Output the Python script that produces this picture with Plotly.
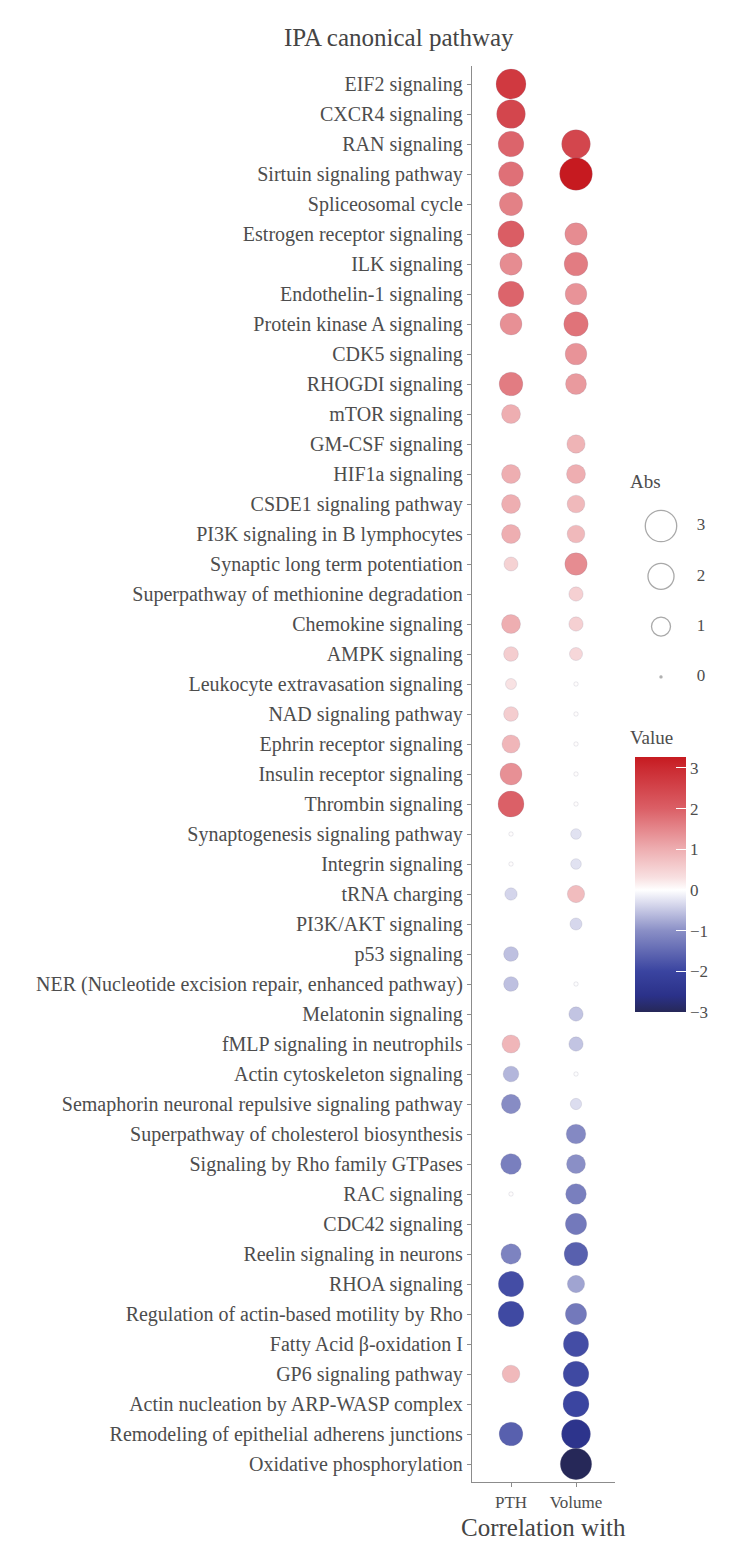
import math
import plotly.graph_objects as go

# ---------------- data ----------------
pathways = [
    "EIF2 signaling", "CXCR4 signaling", "RAN signaling", "Sirtuin signaling pathway",
    "Spliceosomal cycle", "Estrogen receptor signaling", "ILK signaling",
    "Endothelin-1 signaling", "Protein kinase A signaling", "CDK5 signaling",
    "RHOGDI signaling", "mTOR signaling", "GM-CSF signaling", "HIF1a signaling",
    "CSDE1 signaling pathway", "PI3K signaling in B lymphocytes",
    "Synaptic long term potentiation", "Superpathway of methionine degradation",
    "Chemokine signaling", "AMPK signaling", "Leukocyte extravasation signaling",
    "NAD signaling pathway", "Ephrin receptor signaling", "Insulin receptor signaling",
    "Thrombin signaling", "Synaptogenesis signaling pathway", "Integrin signaling",
    "tRNA charging", "PI3K/AKT signaling", "p53 signaling",
    "NER (Nucleotide excision repair, enhanced pathway)", "Melatonin signaling",
    "fMLP signaling in neutrophils", "Actin cytoskeleton signaling",
    "Semaphorin neuronal repulsive signaling pathway",
    "Superpathway of cholesterol biosynthesis", "Signaling by Rho family GTPases",
    "RAC signaling", "CDC42 signaling", "Reelin signaling in neurons", "RHOA signaling",
    "Regulation of actin-based motility by Rho", "Fatty Acid β-oxidation I",
    "GP6 signaling pathway", "Actin nucleation by ARP-WASP complex",
    "Remodeling of epithelial adherens junctions", "Oxidative phosphorylation",
]

pth = [
    2.71, 2.47, 1.94, 1.78, 1.57, 2.04, 1.43, 1.94, 1.38, None,
    1.63, 1.00, None, 1.00, 1.00, 1.00, 0.50, None, 1.00, 0.56,
    0.28, 0.56, 0.89, 1.38, 1.99, 0.02, 0.02, -0.37, None, -0.56,
    -0.56, None, 0.89, -0.65, -1.04, None, -1.21, 0.02, None, -1.16,
    -1.88, -1.94, None, 0.85, None, -1.63, None,
]

volume = [
    None, None, 2.47, 3.27, None, 1.43, 1.63, 1.34, 1.75, 1.34,
    1.25, None, 0.92, 1.00, 0.85, 0.85, 1.43, 0.52, 0.52, 0.42,
    0.02, 0.02, 0.02, 0.02, 0.02, -0.26, -0.26, 0.81, -0.35, None,
    -0.02, -0.52, -0.52, -0.02, -0.30, -1.08, -1.00, -1.21, -1.29, -1.63,
    -0.81, -1.29, -1.88, -1.94, -1.99, -2.52, -3.00,
]

series_names = ["PTH", "Volume"]
series_values = [pth, volume]
size_breaks = [3, 2, 1, 0]
color_ticks = [-3, -2, -1, 0, 1, 2, 3]
value_min, value_max = -3.0, 3.27

# ---------------- styling helpers ----------------
FONT = "Liberation Serif, Times New Roman, Times, serif"
TXT = "#4d4d4d"
AXC = "#8c8c8c"

OFF = 8                      # default page body margin
W, H = 740, 1545
ML, MT = 472 - OFF, 66 - OFF
MB = H - (1482 - OFF)
MR = 5
PW = W - ML - MR
PH = H - MT - MB


def px_x(px):
    """page x pixel -> paper fraction"""
    return (px - OFF - ML) / PW


def px_y(py):
    """page y pixel -> paper fraction"""
    return (H - MB - (py - OFF)) / PH


def diam(v):
    return 2 + 17 * math.sqrt(abs(v))


stops = [
    (-3.0, "#262858"), (-2.6, "#2b3189"), (-2.0, "#3a44a0"), (-1.0, "#8a8fc6"),
    (-0.3, "#dcddef"), (0.0, "#ffffff"), (0.3, "#f8e0e1"), (1.0, "#eeaeb1"),
    (2.0, "#db5f66"), (3.0, "#cb2a31"), (3.27, "#c61a20"),
]
colorscale = [[(v - value_min) / (value_max - value_min), c] for v, c in stops]

# ---------------- build points ----------------
xs, ys, cs = [], [], []
for name, vals in zip(series_names, series_values):
    for p, v in zip(pathways, vals):
        if v is None:
            continue
        xs.append(name)
        ys.append(p)
        cs.append(v)

fig = go.Figure()
fig.add_trace(go.Scatter(
    x=xs, y=ys, mode="markers",
    marker=dict(
        size=[diam(v) for v in cs], color=cs, colorscale=colorscale,
        cmin=value_min, cmax=value_max, opacity=1,
        line=dict(width=0.6, color="rgba(130,130,150,0.3)"),
        showscale=True,
        colorbar=dict(
            x=px_x(635), xanchor="left", y=px_y(884.5), yanchor="middle",
            len=255, lenmode="pixels", thickness=51, thicknessmode="pixels",
            xpad=0, ypad=0, outlinewidth=0,
            tickvals=color_ticks, ticks="inside", ticklen=10, tickcolor="white",
            tickwidth=1, tickfont=dict(family=FONT, size=17, color=TXT),
        ),
    ),
    showlegend=False, hoverinfo="x+y+text", text=[f"{v:.2f}" for v in cs],
))

# size legend ("Abs")
leg_y = [526 + 50.3 * i for i in range(len(size_breaks))]
fig.add_trace(go.Scatter(
    x=[661] * len(size_breaks), y=leg_y, mode="markers",
    marker=dict(size=[diam(b) for b in size_breaks], color="rgba(0,0,0,0)",
                line=dict(color="#858585", width=1.3)),
    xaxis="x2", yaxis="y2", showlegend=False, hoverinfo="skip",
))
fig.add_trace(go.Scatter(
    x=[701] * len(size_breaks), y=leg_y, mode="text",
    text=[str(b) for b in size_breaks],
    textfont=dict(family=FONT, size=17, color=TXT),
    xaxis="x2", yaxis="y2", showlegend=False, hoverinfo="skip",
))

axis_common = dict(
    showline=True, linecolor=AXC, linewidth=1.4, ticks="outside", ticklen=4,
    tickcolor=AXC, tickwidth=1.2, showgrid=False, zeroline=False, fixedrange=True,
)

fig.update_layout(
    width=W, height=H,
    margin=dict(l=ML, r=MR, t=MT, b=MB),
    paper_bgcolor="white", plot_bgcolor="white",
    font=dict(family=FONT, color=TXT),
    xaxis=dict(
        domain=[0, (615 - OFF - ML) / PW], type="category",
        categoryorder="array", categoryarray=series_names, range=[-0.6, 1.6],
        tickfont=dict(family=FONT, size=17, color=TXT), **axis_common,
    ),
    yaxis=dict(
        domain=[0, 1], type="category", categoryorder="array",
        categoryarray=pathways, range=[len(pathways) - 0.4, -0.6],
        tickfont=dict(family=FONT, size=20, color=TXT), **axis_common,
    ),
    xaxis2=dict(domain=[px_x(620), px_x(740)], range=[620, 740], visible=False,
                anchor="y2", fixedrange=True),
    yaxis2=dict(domain=[px_y(700), px_y(500)], range=[700, 500], visible=False,
                anchor="x2", fixedrange=True),
    annotations=[
        dict(text="IPA canonical pathway", x=px_x(398.5), y=px_y(37), xref="paper",
             yref="paper", showarrow=False, xanchor="center", yanchor="middle",
             font=dict(family=FONT, size=25, color="#444444")),
        dict(text="Correlation with", x=px_x(543), y=px_y(1527), xref="paper",
             yref="paper", showarrow=False, xanchor="center", yanchor="middle",
             font=dict(family=FONT, size=25, color="#444444")),
        dict(text="Abs", x=px_x(628), y=px_y(481), xref="paper", yref="paper",
             showarrow=False, xanchor="left", yanchor="middle",
             font=dict(family=FONT, size=19, color=TXT)),
        dict(text="Value", x=px_x(628), y=px_y(738), xref="paper", yref="paper",
             showarrow=False, xanchor="left", yanchor="middle",
             font=dict(family=FONT, size=19, color=TXT)),
    ],
)

fig.write_html("out.html")
